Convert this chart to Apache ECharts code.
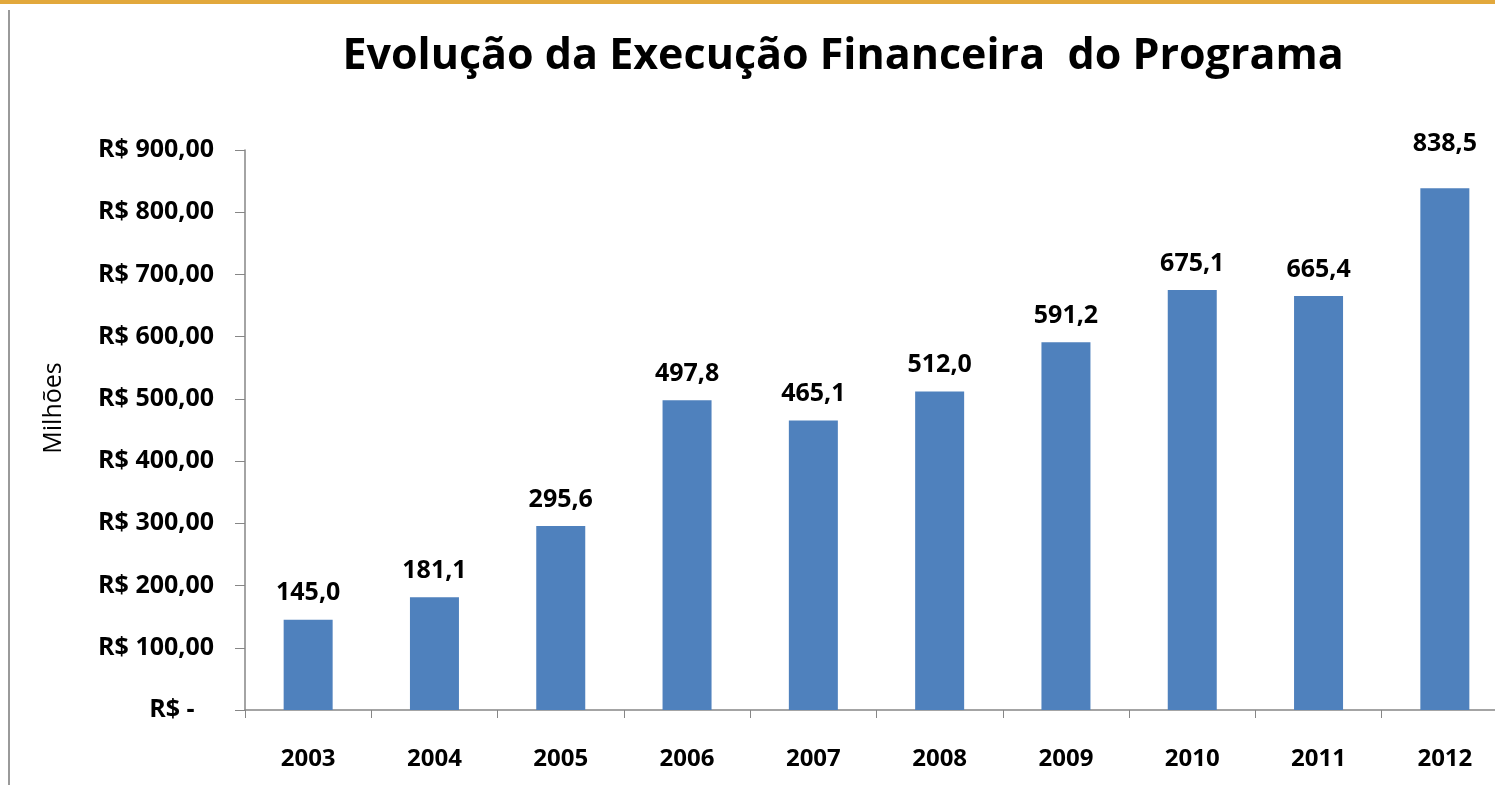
<!DOCTYPE html>
<html>
<head>
<meta charset="utf-8">
<script src="https://cdn.jsdelivr.net/npm/echarts@6/dist/echarts.min.js"></script>
<style>
  html, body { margin: 0; padding: 0; background: #fff; overflow: hidden; }
  #chart { width: 1512px; height: 785px; }
</style>
</head>
<body>
<div id="chart"></div>
<script>
const years = ["2003", "2004", "2005", "2006", "2007", "2008", "2009", "2010", "2011", "2012"];
const execucao = [145.0, 181.1, 295.6, 497.8, 465.1, 512.0, 591.2, 675.1, 665.4, 838.5];
const yTicks = [0, 100, 200, 300, 400, 500, 600, 700, 800, 900];

const font = "'Open Sans', Lato, sans-serif";
const fmtBR = (v, d) => v.toFixed(d).replace(".", ",");

const chart = echarts.init(document.getElementById("chart"), null, { renderer: "canvas" });
chart.setOption({
  animation: false,
  backgroundColor: "#fff",
  title: {
    text: "Evolução da Execução Financeira  do Programa",
    left: 838,
    top: 30,
    textAlign: "center",
    textStyle: { fontFamily: font, fontSize: 43, fontWeight: "bold", color: "#000" }
  },
  graphic: [
    { type: "rect", shape: { x: 0, y: 0, width: 1512, height: 4 }, style: { fill: "#e2a83c" } },
    { type: "rect", shape: { x: 8, y: 10, width: 2, height: 775 }, style: { fill: "#9a9a9a" } },
    {
      type: "text", x: 54, y: 408, rotation: Math.PI / 2,
      style: { text: "Milhões", font: "25px " + font, fill: "#000", align: "center", verticalAlign: "middle" }
    }
  ],
  grid: { left: 245, top: 150, width: 1263, height: 560, containLabel: false },
  xAxis: {
    type: "category",
    data: years,
    axisLine: { lineStyle: { color: "#868686", width: 1.5 } },
    axisTick: { show: true, length: 8, lineStyle: { color: "#868686" } },
    axisLabel: { fontFamily: font, fontSize: 24, fontWeight: "bold", color: "#000", margin: 37 }
  },
  yAxis: {
    type: "value",
    min: yTicks[0],
    max: yTicks[yTicks.length - 1],
    interval: 100,
    splitLine: { show: false },
    axisLine: { show: true, lineStyle: { color: "#868686", width: 1.5 } },
    axisTick: { show: true, length: 10, lineStyle: { color: "#868686" } },
    axisLabel: {
      fontFamily: font, fontSize: 25, fontWeight: "bold", color: "#000", margin: 31,
      formatter: v => v === 0 ? "R$ -   " : "R$ " + fmtBR(v, 2)
    }
  },
  series: [{
    type: "bar",
    barWidth: 49,
    data: execucao.map((v, i) => ({
      value: v,
      label: i === execucao.length - 1 ? { distance: 32 } : undefined
    })),
    itemStyle: { color: "#4f81bd" },
    label: {
      show: true,
      position: "top",
      distance: 14,
      fontFamily: font, fontSize: 25, fontWeight: "bold", color: "#000",
      formatter: p => fmtBR(p.value, 1)
    }
  }]
});
</script>
</body>
</html>
